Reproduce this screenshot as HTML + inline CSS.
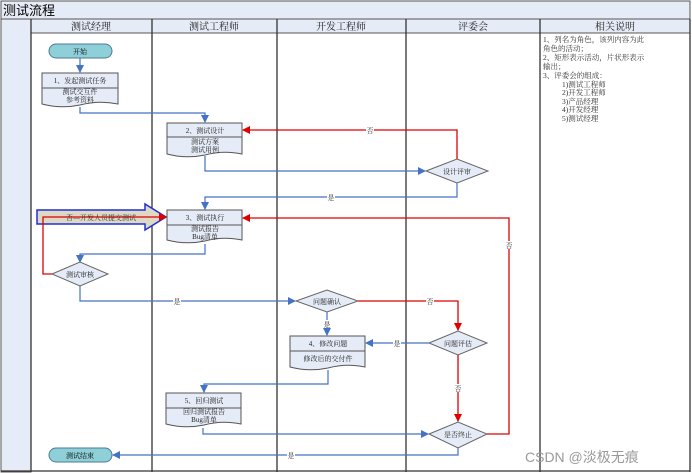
<!DOCTYPE html>
<html><head><meta charset="utf-8"><style>
html,body{margin:0;padding:0;background:#fff;}
svg{display:block;font-family:"Liberation Serif","Noto Serif CJK SC",serif;}
</style></head><body>
<svg width="692" height="473" viewBox="0 0 692 473" xmlns="http://www.w3.org/2000/svg">
<defs>
<marker id="ab" markerWidth="8" markerHeight="8" refX="7" refY="4" orient="auto" markerUnits="userSpaceOnUse"><path d="M0,0 L8,4 L0,8 z" fill="#4472c4"/></marker>
<marker id="ar" markerWidth="8" markerHeight="8" refX="7" refY="4" orient="auto" markerUnits="userSpaceOnUse"><path d="M0,0 L8,4 L0,8 z" fill="#e00000"/></marker>
</defs>
<rect x="0" y="0" width="692" height="473" fill="#fff"/>
<rect x="1" y="1" width="689" height="18" fill="#e6ecf7" stroke="#555"/>
<text x="3" y="15" font-size="13" font-family="Liberation Sans,Noto Sans CJK SC,sans-serif">测试流程</text>
<rect x="1" y="19" width="30" height="453" fill="#e6ecf7" stroke="#555"/>
<rect x="31" y="19" width="659" height="14" fill="#e6ecf7" stroke="#555"/>
<g stroke="#333" stroke-width="1.3">
<line x1="31" y1="19" x2="31" y2="472"/><line x1="152" y1="19" x2="152" y2="472"/>
<line x1="277" y1="19" x2="277" y2="472"/><line x1="406" y1="19" x2="406" y2="472"/>
<line x1="540" y1="19" x2="540" y2="472"/><line x1="690" y1="19" x2="690" y2="472"/>
<line x1="1" y1="471" x2="690" y2="471"/>
</g>
<g font-size="10" text-anchor="middle" fill="#222">
<text x="91" y="30">测试经理</text><text x="214" y="30">测试工程师</text>
<text x="341" y="30">开发工程师</text><text x="473" y="30">评委会</text><text x="615" y="30">相关说明</text>
</g>
<g font-size="7.5" fill="#333">
<text x="543" y="42">1、列名为角色，该列内容为此</text>
<text x="543" y="51">角色的活动；</text>
<text x="543" y="60">2、矩形表示活动，片状形表示</text>
<text x="543" y="69">输出；</text>
<text x="543" y="78">3、评委会的组成：</text>
<text x="562" y="87">1)测试工程师</text><text x="562" y="95">2)开发工程师</text>
<text x="562" y="104">3)产品经理</text><text x="562" y="112">4)开发经理</text><text x="562" y="121">5)测试经理</text>
</g>
<!-- terminators -->
<rect x="49" y="44" width="63" height="14" rx="7" fill="#8fcfd7" stroke="#4a7a9a"/>
<text x="80" y="54" font-size="7" text-anchor="middle">开始</text>
<rect x="49" y="448" width="63" height="14" rx="7" fill="#8fcfd7" stroke="#4a7a9a"/>
<text x="80" y="458" font-size="7" text-anchor="middle">测试结束</text>
<!-- docs -->
<g fill="#e6ecf7" stroke="#555" stroke-width="1">
<path d="M42,73 H118 V104 Q99,100 80,105 Q61,109 42,104 Z"/><line x1="42" y1="88" x2="118" y2="88"/>
<path d="M167,123 H242 V154 Q223,150 205,155 Q186,159 167,154 Z"/><line x1="167" y1="137" x2="242" y2="137"/>
<path d="M167,210 H242 V240 Q223,236 205,241 Q186,245 167,240 Z"/><line x1="167" y1="225" x2="242" y2="225"/>
<path d="M290,336 H365 V367 Q346,363 328,368 Q309,372 290,367 Z"/><line x1="290" y1="351" x2="365" y2="351"/>
<path d="M166,393 H241 V424 Q222,420 204,425 Q185,429 166,424 Z"/><line x1="166" y1="408" x2="241" y2="408"/>
</g>
<g font-size="7" text-anchor="middle" fill="#222">
<text x="80" y="83">1、发起测试任务</text><text x="80" y="94">测试交互件</text><text x="80" y="102">参考资料</text>
<text x="205" y="133">2、测试设计</text><text x="205" y="144">测试方案</text><text x="205" y="152">测试用例</text>
<text x="205" y="220">3、测试执行</text><text x="205" y="231">测试报告</text><text x="205" y="239">Bug清单</text>
<text x="328" y="346">4、修改问题</text><text x="328" y="361">修改后的交付件</text>
<text x="204" y="403">5、回归测试</text><text x="204" y="414">回归测试报告</text><text x="204" y="422">Bug清单</text>
</g>
<!-- diamonds -->
<g fill="#e6ecf7" stroke="#666">
<path d="M426,171 L457,159 L488,171 L457,183 Z"/>
<path d="M52,274 L80,262 L108,274 L80,286 Z"/>
<path d="M296,301 L327,290 L358,301 L327,312 Z"/>
<path d="M429,343 L458,331 L487,343 L458,355 Z"/>
<path d="M429,434 L458,422 L487,434 L458,448 Z"/>
</g>
<g font-size="7" text-anchor="middle" fill="#222">
<text x="457" y="174">设计评审</text><text x="80" y="277">测试审核</text><text x="327" y="304">问题确认</text>
<text x="458" y="346">问题评估</text><text x="458" y="437">是否终止</text>
</g>
<!-- big hollow arrow -->
<path d="M37,210 H145 V204 L166,217 L145,230 V224 H37 Z" fill="#ddd9c4" stroke="#2030d0" stroke-width="1.5"/>
<!-- blue lines -->
<g stroke="#4472c4" stroke-width="1.2" fill="none" marker-end="url(#ab)">
<line x1="80" y1="58" x2="80" y2="72"/>
<path d="M80,107 V113 H205 V122"/>
<path d="M205,156 V171 H425"/>
<path d="M457,183 V197 H205 V209"/>
<path d="M205,244 V254 H80 V262"/>
<path d="M80,286 V301 H295"/>
<path d="M327,312 V335"/>
<path d="M429,343 H366"/>
<path d="M328,370 V384 H204 V392"/>
<path d="M203,428 V434 H428"/>
<path d="M458,448 V455 H113"/>
</g>
<!-- red lines -->
<g stroke="#e00000" stroke-width="1.3" fill="none">
<path d="M457,159 V130 H243" marker-end="url(#ar)"/>
<path d="M487,434 H509 V218 H243" marker-end="url(#ar)"/>
<path d="M52,274 H43 V217 H166" marker-end="url(#ar)"/>
<path d="M358,301 H458 V330" marker-end="url(#ar)"/>
<path d="M458,355 V421" marker-end="url(#ar)"/>
</g>
<text x="66" y="220" font-size="7" fill="#333">否—开发人员提交测试</text>
<g font-size="7" text-anchor="middle" fill="#333">
<rect x="366" y="126" width="8" height="8" fill="#fff"/><text x="370" y="133">否</text>
<rect x="327" y="193" width="8" height="8" fill="#fff"/><text x="331" y="200">是</text>
<rect x="505" y="241" width="8" height="8" fill="#fff"/><text x="509" y="248">否</text>
<rect x="173" y="297" width="8" height="8" fill="#fff"/><text x="177" y="304">是</text>
<rect x="426" y="297" width="8" height="8" fill="#fff"/><text x="430" y="304">否</text>
<rect x="323" y="320" width="8" height="8" fill="#fff"/><text x="327" y="327">是</text>
<rect x="393" y="339" width="8" height="8" fill="#fff"/><text x="397" y="346">是</text>
<rect x="454" y="384" width="8" height="8" fill="#fff"/><text x="458" y="391">否</text>
<rect x="287" y="451" width="8" height="8" fill="#fff"/><text x="291" y="458">是</text>
</g>
<text x="525" y="462" font-size="14" fill="#999" font-family="Liberation Sans,Noto Sans CJK SC,sans-serif">CSDN @淡极无痕</text>
</svg>
</body></html>
